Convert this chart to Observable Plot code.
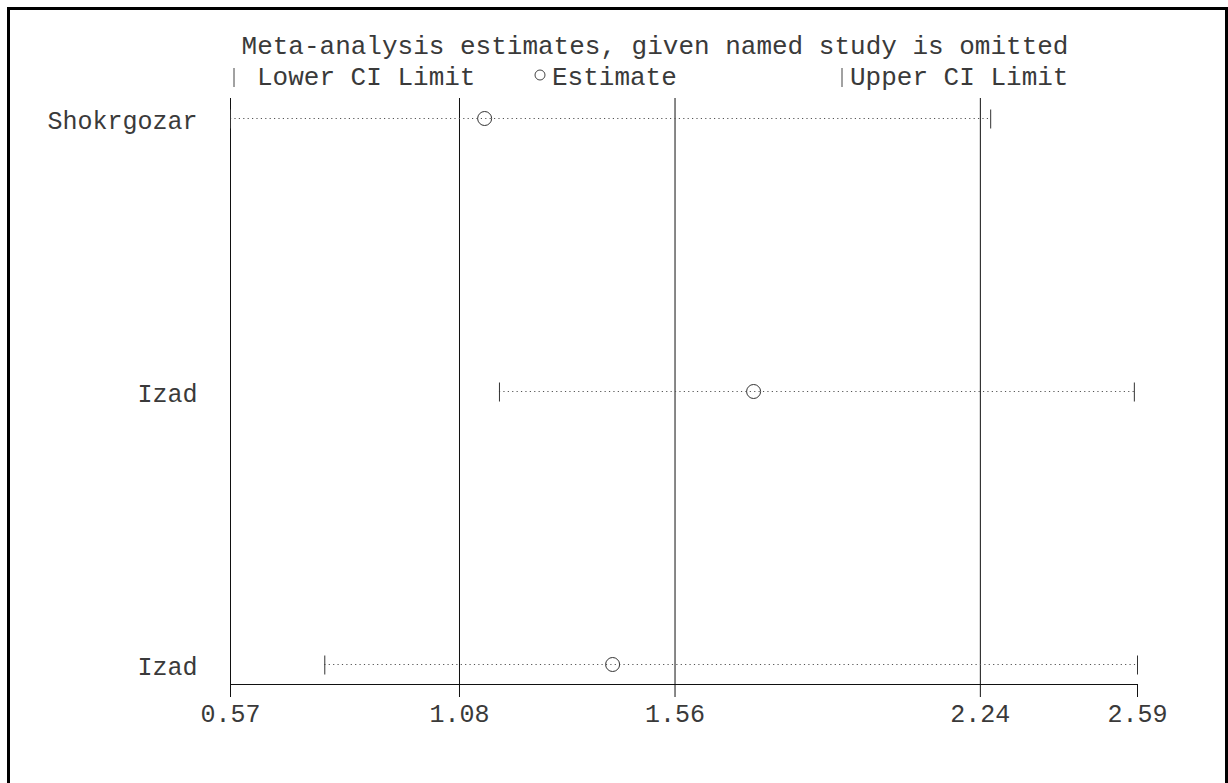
<!DOCTYPE html>
<html>
<head>
<meta charset="utf-8">
<script src="https://cdn.jsdelivr.net/npm/d3@7"></script>
<script src="https://cdn.jsdelivr.net/npm/@observablehq/plot@0.6"></script>
<style>
  html, body { margin: 0; padding: 0; background: #fff; }
  body { width: 1228px; height: 783px; overflow: hidden; position: relative; font-family: "Liberation Mono", "DejaVu Sans Mono", monospace; color: #3a3a3a; }
  #frame { position: absolute; left: 7px; top: 7px; width: 1221px; height: 820px; border: 3px solid #000; box-sizing: border-box; pointer-events: none; }
  #chart { position: absolute; left: 0; top: 0; }
  .t { position: absolute; font-size: 26px; line-height: 30px; white-space: pre; }
  #title { top: 32px; left: 655px; transform: translateX(-50%); }
  .sym { position: absolute; }
</style>
</head>
<body>
<div id="chart"></div>
<div id="title" class="t">Meta-analysis estimates, given named study is omitted</div>
<svg class="sym" style="left:229px;top:66px" width="10" height="24"><line x1="5" x2="5" y1="2" y2="21" stroke="#444" stroke-width="1"/></svg>
<div class="t" style="left:257px;top:63px">Lower CI Limit</div>
<svg class="sym" style="left:532px;top:67px" width="16" height="16"><circle cx="8" cy="8" r="5" fill="none" stroke="#444" stroke-width="1"/></svg>
<div class="t" style="left:552px;top:63px">Estimate</div>
<svg class="sym" style="left:837px;top:66px" width="10" height="24"><line x1="5" x2="5" y1="2" y2="21" stroke="#444" stroke-width="1"/></svg>
<div class="t" style="left:850px;top:63px">Upper CI Limit</div>
<div id="frame"></div>
<script>
// ---- data ----
const studies = ["Shokrgozar", "Izad", "Izad"];
const lower = [0.57, 1.169, 0.780];
const estimate = [1.136, 1.735, 1.421];
const upper = [2.263, 2.583, 2.59];
const xTicks = [0.57, 1.08, 1.56, 2.24, 2.59];
const gridTicks = [0.57, 1.08, 1.56, 2.24];

const rows = studies.map((s, i) => ({i, study: s, lower: lower[i], estimate: estimate[i], upper: upper[i]}));

const pad = 20 / 273;
const capSymbol = {
  draw(ctx, size) {
    const h = Math.sqrt(size / Math.PI);
    ctx.moveTo(0, -h);
    ctx.lineTo(0, h);
  }
};

const font = "Liberation Mono, DejaVu Sans Mono, monospace";

const chart = Plot.plot({
  width: 1228,
  height: 783,
  marginLeft: 230,
  marginRight: 91,
  marginTop: 98,
  marginBottom: 99,
  style: {background: "transparent", fontFamily: font, fontSize: "25px", color: "#3a3a3a"},
  x: {domain: [0.57, 2.59]},
  y: {domain: [studies.length - 1 + pad, -pad]},
  marks: [
    Plot.ruleX(gridTicks, {stroke: "#111", strokeWidth: 1}),
    Plot.ruleY([studies.length - 1 + pad], {stroke: "#111", strokeWidth: 1}),
    Plot.ruleY(rows, {y: "i", x1: "lower", x2: "upper", stroke: "#555", strokeWidth: 1, strokeDasharray: "1.2,3.2"}),
    Plot.dot(rows, {x: "lower", y: "i", symbol: capSymbol, r: 9.5, stroke: "#333", strokeWidth: 1, dy: 0.5}),
    Plot.dot(rows, {x: "upper", y: "i", symbol: capSymbol, r: 9.5, stroke: "#333", strokeWidth: 1, dy: 0.5}),
    Plot.dot(rows, {x: "estimate", y: "i", r: 7, stroke: "#333", strokeWidth: 1, fill: "none"}),
    Plot.axisX({ticks: xTicks, tickFormat: d3.format(".2f"), tickSize: 13, tickPadding: 7, stroke: "#111", fill: "#3a3a3a", fontSize: 25, label: null}),
    Plot.axisY({ticks: [0, 1, 2], tickFormat: i => studies[i], tickSize: 0, tickPadding: 33, fill: "#3a3a3a", fontSize: 25, label: null, dy: 2})
  ]
});
document.getElementById("chart").appendChild(chart);
</script>
</body>
</html>
